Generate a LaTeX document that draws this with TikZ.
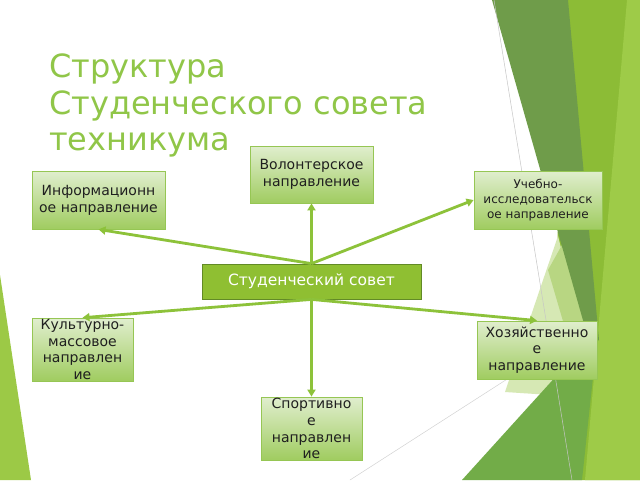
\documentclass[tikz,border=0pt]{standalone}
\usepackage{fontspec}
\setmainfont{DejaVu Sans}
\usetikzlibrary{arrows.meta}
\definecolor{titlegreen}{RGB}{144,198,72}
\definecolor{linegreen}{RGB}{141,194,58}
\definecolor{boxtop}{RGB}{224,238,206}
\definecolor{boxbot}{RGB}{160,204,96}
\definecolor{boxline}{RGB}{150,198,84}
\definecolor{sovetfill}{RGB}{143,191,50}
\definecolor{sovetline}{RGB}{98,138,38}
\definecolor{darkband}{RGB}{111,156,74}
\definecolor{midgreen}{RGB}{140,188,54}
\definecolor{lightgreen}{RGB}{158,203,72}
\definecolor{palegreen}{RGB}{214,232,180}
\definecolor{deepgreen}{RGB}{114,172,72}
\tikzset{>=stealth}

\begin{document}
\begin{tikzpicture}[x=1pt,y=-1pt,
    napr/.style={draw=boxline, line width=0.8pt, top color=boxtop, bottom color=boxbot,
      align=center, inner sep=1pt, text=black!88,
      font=\fontsize{14}{16.8}\selectfont},
    svyaz/.style={->, draw=linegreen, line width=2.8pt,
      >={Triangle[length=7pt,width=8pt]}}]
  \fill[white] (0,0) rectangle (640,480);
  \useasboundingbox (0,0) rectangle (640,480);

  \fill[midgreen] (565,0) -- (640,0) -- (640,480) -- (550,480) -- cycle;
  \fill[lightgreen] (627,0) -- (640,0) -- (640,480) -- (585,480) -- cycle;
  \fill[palegreen] (505,392) -- (558,236) -- (582,330) -- (566,396) -- cycle;
  \fill[palegreen!60!midgreen] (548,270) -- (562,245) -- (588,335) -- (570,345) -- cycle;
  \fill[darkband] (492,0) -- (568,0) -- (599,340) -- (590,345) -- cycle;
  \fill[deepgreen] (462,480) -- (598,330) -- (582,480) -- cycle;
  \fill[lightgreen!90!midgreen] (0,275) -- (31,480) -- (0,480) -- cycle;
  \draw[gray!45, line width=0.5pt] (494,0) -- (572,480);
  \draw[gray!35, line width=0.5pt] (540,358) -- (350,480);

  \node[anchor=north west, inner sep=0pt, align=left, text=titlegreen,
    font=\fontsize{32}{36.5}\selectfont] (titel) at (49,54)
    {Структура\\Студенческого совета\\техникума};

  \node[napr, minimum width=133pt, minimum height=58pt] (info) at (98.5,200)
    {Информационн\\ое направление};
  \node[napr, minimum width=123pt, minimum height=57pt] (volont) at (311.5,174.5)
    {Волонтерское\\направление};
  \node[napr, minimum width=128pt, minimum height=58pt,
    font=\fontsize{12}{15}\selectfont] (uchebn) at (538,200)
    {Учебно-\\исследовательск\\ое направление};
  \node[draw=sovetline, line width=0.8pt, fill=sovetfill, text=white,
    minimum width=219pt, minimum height=35pt,
    font=\fontsize{15.5}{18}\selectfont] (sovet) at (311.5,281.5)
    {Студенческий совет};
  \node[napr, minimum width=101pt, minimum height=59pt] (kultur) at (82.5,349.5)
    {Культурно-\\массовое\\направлен\\ие};
  \node[napr, minimum width=120pt, minimum height=58pt] (khoz) at (537,350)
    {Хозяйственно\\е\\направление};
  \node[napr, minimum width=101pt, minimum height=59pt] (sport) at (311.5,428.5)
    {Спортивно\\е\\направлен\\ие};

  \foreach \ziel/\anker in {info/south, volont/south, uchebn/west}
    \draw[svyaz] (sovet.north) -- (\ziel.\anker);
  \foreach \ziel in {kultur, khoz, sport}
    \draw[svyaz] (sovet.south) -- (\ziel.north);
\end{tikzpicture}
\end{document}
